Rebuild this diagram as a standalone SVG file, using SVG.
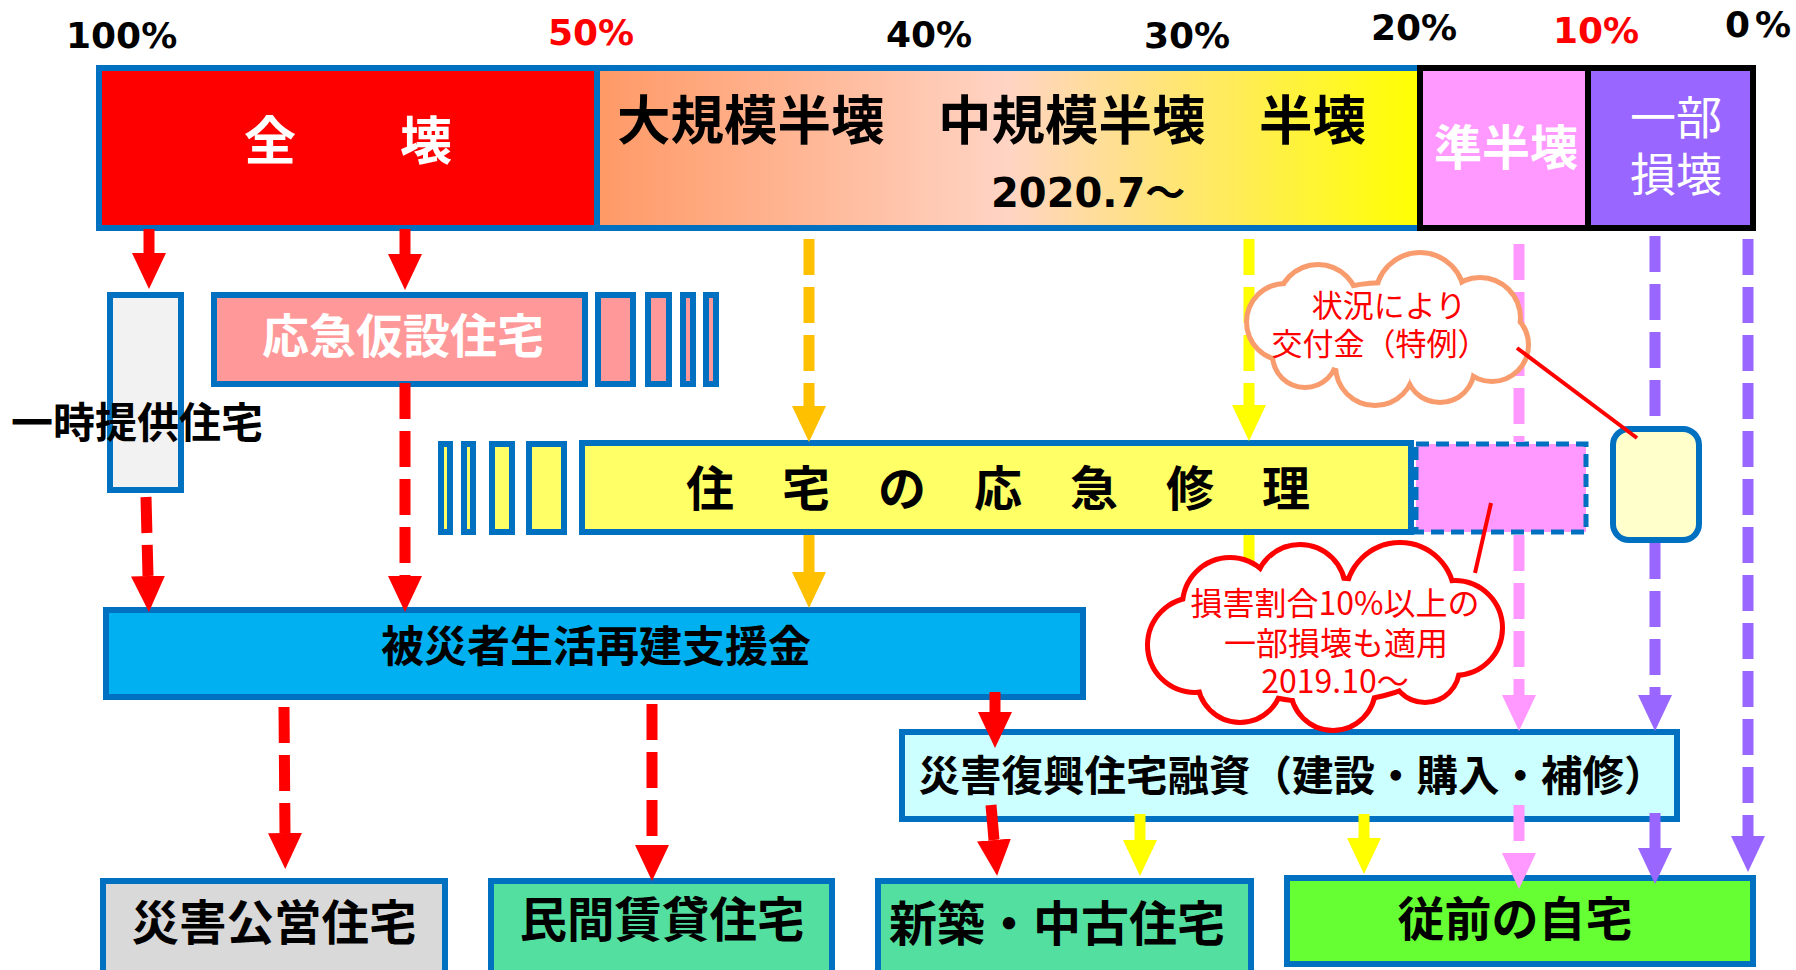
<svg xmlns="http://www.w3.org/2000/svg" xmlns:xlink="http://www.w3.org/1999/xlink" width="1796" height="970" viewBox="0 0 1796 970">
<defs>
<style>
.pct{font-family:"DejaVu Sans","Liberation Sans",sans-serif;font-weight:700;font-size:36px;fill:#000}
.jb{font-family:"Noto Sans CJK JP","Noto Sans CJK SC",sans-serif;font-weight:700;fill:#000}
.jr{font-family:"Noto Sans CJK JP","Noto Sans CJK SC",sans-serif;font-weight:400}
.w{fill:#FFFFFF}
.rt{fill:#FF0000}
.box{stroke:#0070C0;stroke-width:6}
.dash{stroke-dasharray:36 12}
.ln{fill:none;stroke-width:11}
.cr{stroke:#FF0000}
.co{stroke:#FFC000}
.cy{stroke:#FFFF00}
.cp{stroke:#FF99FF}
.cv{stroke:#9966FF}
</style>
<linearGradient id="grad" x1="0" y1="0" x2="1" y2="0">
<stop offset="0" stop-color="#FF9966"/>
<stop offset="0.5" stop-color="#FFD4C4"/>
<stop offset="1" stop-color="#FFFF00"/>
</linearGradient>
<marker id="hr" markerUnits="userSpaceOnUse" markerWidth="36" markerHeight="34" viewBox="0 -17 36 34" refX="0" refY="0" orient="auto"><path d="M0,-17 L36,0 L0,17 z" fill="#FF0000"/></marker>
<marker id="ho" markerUnits="userSpaceOnUse" markerWidth="36" markerHeight="34" viewBox="0 -17 36 34" refX="0" refY="0" orient="auto"><path d="M0,-17 L36,0 L0,17 z" fill="#FFC000"/></marker>
<marker id="hy" markerUnits="userSpaceOnUse" markerWidth="36" markerHeight="34" viewBox="0 -17 36 34" refX="0" refY="0" orient="auto"><path d="M0,-17 L36,0 L0,17 z" fill="#FFFF00"/></marker>
<marker id="hp" markerUnits="userSpaceOnUse" markerWidth="36" markerHeight="34" viewBox="0 -17 36 34" refX="0" refY="0" orient="auto"><path d="M0,-17 L36,0 L0,17 z" fill="#FF99FF"/></marker>
<marker id="hv" markerUnits="userSpaceOnUse" markerWidth="36" markerHeight="34" viewBox="0 -17 36 34" refX="0" refY="0" orient="auto"><path d="M0,-17 L36,0 L0,17 z" fill="#9966FF"/></marker>
<g id="cloudO">
<circle cx="1318" cy="305" r="38"/>
<circle cx="1420" cy="297" r="42"/>
<circle cx="1480" cy="318" r="38"/>
<circle cx="1492" cy="345" r="34"/>
<circle cx="1440" cy="368" r="32"/>
<circle cx="1375" cy="366" r="37"/>
<circle cx="1305" cy="355" r="30"/>
<circle cx="1285" cy="322" r="36"/>
<ellipse cx="1390" cy="330" rx="100" ry="45"/>
</g>
<g id="cloudR">
<circle cx="1230" cy="605" r="45"/>
<circle cx="1300" cy="590" r="43"/>
<circle cx="1400" cy="597" r="52"/>
<circle cx="1455" cy="628" r="45"/>
<circle cx="1425" cy="668" r="32"/>
<circle cx="1333" cy="688" r="40"/>
<circle cx="1240" cy="680" r="40"/>
<circle cx="1195" cy="645" r="45"/>
<ellipse cx="1325" cy="640" rx="125" ry="60"/>
</g>
</defs>
<rect width="1796" height="970" fill="#FFFFFF"/>

<g id="scale">
<text class="pct" x="66" y="48">100%</text>
<text class="pct" x="548" y="45" fill="#FF0000" style="fill:#FF0000">50%</text>
<text class="pct" x="886" y="47">40%</text>
<text class="pct" x="1144" y="48">30%</text>
<text class="pct" x="1371" y="40">20%</text>
<text class="pct" x="1553" y="43" style="fill:#FF0000">10%</text>
<text class="pct" x="1725" y="37" letter-spacing="5">0%</text>
</g>

<g id="damage-bar">
<rect x="99" y="68" width="498" height="160" fill="#FF0000"/>
<rect x="597" y="68" width="823" height="160" fill="url(#grad)"/>
<rect x="99" y="68" width="1321" height="160" fill="none" class="box"/>
<line x1="597" y1="68" x2="597" y2="228" class="box"/>
<rect x="1420" y="68" width="168" height="160" fill="#FF99FF"/>
<rect x="1588" y="68" width="165" height="160" fill="#9966FF"/>
<rect x="1420" y="68" width="333" height="160" fill="none" stroke="#000000" stroke-width="6"/>
<line x1="1588" y1="68" x2="1588" y2="228" stroke="#000000" stroke-width="6"/>
<text class="jb w" x="244" y="160" font-size="52">全　　壊</text>
<text class="jb" x="617" y="140" font-size="53.5">大規模半壊　中規模半壊　半壊</text>
<text x="991" y="207" font-family="DejaVu Sans, Noto Sans CJK JP, sans-serif" font-weight="700" font-size="40">2020.7～</text>
<text class="jb w" x="1506" y="165" font-size="48" text-anchor="middle">準半壊</text>
<text class="jr w" x="1676" y="134" font-size="46" text-anchor="middle">一部</text>
<text class="jr w" x="1676" y="191" font-size="46" text-anchor="middle">損壊</text>
</g>

<g id="temp-housing-provided">
<rect x="110" y="295" width="71" height="195" fill="#F2F2F2" class="box"/>
</g>

<g id="emergency-temp-housing">
<rect x="214" y="295" width="371" height="89" fill="#FF9999" class="box"/>
<rect x="598" y="295" width="35" height="89" fill="#FF9999" class="box"/>
<rect x="648" y="295" width="21" height="89" fill="#FF9999" class="box"/>
<rect x="683" y="295" width="10" height="89" fill="#FF9999" class="box"/>
<rect x="706" y="295" width="10" height="89" fill="#FF9999" class="box"/>
<text class="jb w" x="403" y="353" font-size="47" text-anchor="middle">応急仮設住宅</text>
</g>

<g id="emergency-repair">
<rect x="441" y="444" width="9" height="88" fill="#FFFF66" class="box"/>
<rect x="464" y="444" width="9" height="88" fill="#FFFF66" class="box"/>
<rect x="492" y="444" width="20" height="88" fill="#FFFF66" class="box"/>
<rect x="529" y="444" width="35" height="88" fill="#FFFF66" class="box"/>
<rect x="582" y="443" width="829" height="89" fill="#FFFF66" class="box"/>
<text class="jb" x="686" y="506" font-size="48">住　宅　の　応　急　修　理</text>
</g>

<g id="repair-semi">
<rect x="1416" y="444" width="170" height="88" fill="#FF99FF" stroke="#0070C0" stroke-width="5" stroke-dasharray="13 7"/>
</g>

<g id="repair-partial">
<rect x="1613" y="429" width="86" height="111" rx="16" ry="16" fill="#FFFFCC" class="box"/>
</g>

<g id="support-grant">
<rect x="106" y="610" width="977" height="87" fill="#00B0F0" class="box"/>
<text class="jb" x="596" y="662" font-size="43" text-anchor="middle">被災者生活再建支援金</text>
</g>

<g id="housing-loan">
<rect x="902" y="732" width="775" height="87" fill="#CCFFFF" class="box"/>
<text class="jb" x="1292" y="791" font-size="41.5" text-anchor="middle">災害復興住宅融資（建設・購入・補修）</text>
</g>

<g id="public-housing">
<rect x="103" y="881" width="342" height="100" fill="#D9D9D9" class="box"/>
<text class="jb" x="274" y="940" font-size="47.5" text-anchor="middle">災害公営住宅</text>
</g>

<g id="private-rental">
<rect x="491" y="881" width="341" height="100" fill="#53DFA0" class="box"/>
<text class="jb" x="662" y="937" font-size="47.5" text-anchor="middle">民間賃貸住宅</text>
</g>

<g id="new-used-housing">
<rect x="878" y="881" width="373" height="100" fill="#53DFA0" class="box"/>
<text class="jb" x="1057" y="941" font-size="48" text-anchor="middle">新築・中古住宅</text>
</g>

<g id="former-home">
<rect x="1287" y="878" width="466" height="86" fill="#66FF33" class="box"/>
<text class="jb" x="1515" y="936" font-size="47" text-anchor="middle">従前の自宅</text>
</g>

<g id="temp-housing-label">
<text class="jb" x="11" y="438" font-size="42">一時提供住宅</text>
</g>

<g id="connectors">
<line x1="149" y1="229" x2="149" y2="253" class="ln cr" marker-end="url(#hr)"/>
<line x1="405" y1="229" x2="405" y2="254" class="ln cr" marker-end="url(#hr)"/>
<line x1="809" y1="239" x2="809" y2="406" class="ln co dash" marker-end="url(#ho)"/>
<line x1="809" y1="535" x2="809" y2="572" class="ln co" marker-end="url(#ho)"/>
<line x1="1249" y1="239" x2="1249" y2="405" class="ln cy dash" marker-end="url(#hy)"/>
<line x1="1249" y1="535" x2="1249" y2="590" class="ln cy"/>
<line x1="1519" y1="244" x2="1519" y2="442" class="ln cp dash"/>
<line x1="1519" y1="535" x2="1519" y2="695" class="ln cp dash" marker-end="url(#hp)"/>
<line x1="1519" y1="805" x2="1519" y2="853" class="ln cp dash" marker-end="url(#hp)"/>
<line x1="1655" y1="236" x2="1655" y2="426" class="ln cv dash"/>
<line x1="1655" y1="543" x2="1655" y2="695" class="ln cv dash" marker-end="url(#hv)"/>
<line x1="1655" y1="813" x2="1655" y2="848" class="ln cv" marker-end="url(#hv)"/>
<line x1="1748" y1="239" x2="1748" y2="836" class="ln cv dash" marker-end="url(#hv)"/>
<line x1="146" y1="497" x2="148" y2="576" class="ln cr dash" marker-end="url(#hr)"/>
<line x1="405" y1="383" x2="405" y2="576" class="ln cr dash" marker-end="url(#hr)"/>
<line x1="995" y1="692" x2="995" y2="712" class="ln cr" marker-end="url(#hr)"/>
<line x1="284" y1="707" x2="285" y2="833" class="ln cr dash" marker-end="url(#hr)"/>
<line x1="652" y1="704" x2="652" y2="845" class="ln cr dash" marker-end="url(#hr)"/>
<line x1="991" y1="805" x2="994" y2="840" class="ln cr" marker-end="url(#hr)"/>
<line x1="1140" y1="814" x2="1140" y2="840" class="ln cy" marker-end="url(#hy)"/>
<line x1="1364" y1="814" x2="1364" y2="838" class="ln cy" marker-end="url(#hy)"/>
</g>

<g id="note-special">
<use xlink:href="#cloudO" href="#cloudO" fill="#FFFFFF" stroke="#F89C6E" stroke-width="10"/>
<use xlink:href="#cloudO" href="#cloudO" fill="#FFFFFF" stroke="none"/>
<text class="jr rt" x="1389" y="317" font-size="31" text-anchor="middle">状況により</text>
<text class="jr rt" x="1380" y="355" font-size="31" text-anchor="middle">交付金（特例）</text>
</g>

<g id="note-partial">
<use xlink:href="#cloudR" href="#cloudR" fill="#FFFFFF" stroke="#FF0000" stroke-width="10"/>
<use xlink:href="#cloudR" href="#cloudR" fill="#FFFFFF" stroke="none"/>
<text class="jr rt" x="1335" y="615" font-size="32" text-anchor="middle">損害割合10%以上の</text>
<text class="jr rt" x="1336" y="655" font-size="32" text-anchor="middle">一部損壊も適用</text>
<text class="jr rt" x="1335" y="693" font-size="32" text-anchor="middle">2019.10～</text>
</g>

<g id="callouts">
<line x1="1517" y1="348" x2="1637" y2="438" stroke="#FF0000" stroke-width="4"/>
<line x1="1491" y1="503" x2="1475" y2="573" stroke="#FF0000" stroke-width="4"/>
</g>
</svg>
